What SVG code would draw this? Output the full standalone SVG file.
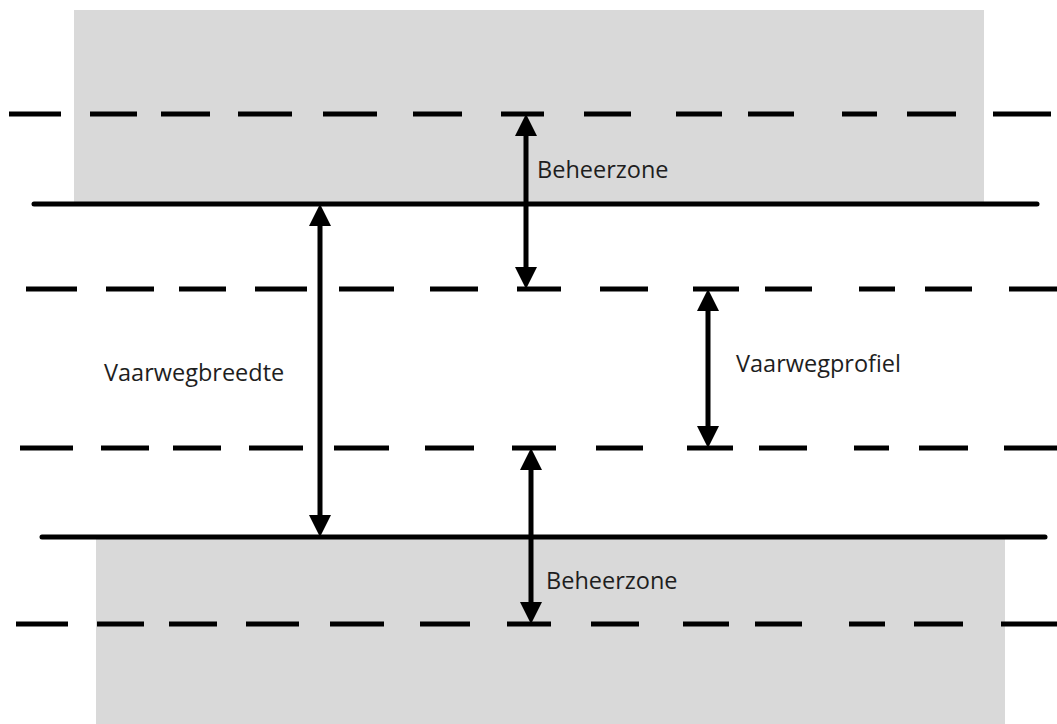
<svg xmlns="http://www.w3.org/2000/svg" width="1057" height="724" viewBox="0 0 1057 724">
  <style>
    .zone { fill: #d9d9d9; }
    .solid { stroke: #000; stroke-width: 5; stroke-linecap: round; fill: none; }
    .dash { stroke: #000; stroke-width: 5; stroke-linecap: butt; fill: none; }
    .arrow { stroke: #000; stroke-width: 5; fill: none; marker-start: url(#head); marker-end: url(#head); }
    .label { font-family: "Open Sans", "Noto Sans", sans-serif; font-size: 23.5px; fill: #1e1e1e; }
  </style>
  <defs>
    <marker id="head" markerUnits="userSpaceOnUse" markerWidth="22" markerHeight="22" refX="12" refY="11" orient="auto-start-reverse">
      <path d="M0,0 L22,11 L0,22 z" fill="#000"/>
    </marker>
  </defs>
  <rect width="1057" height="724" fill="#fff"/>

  <g id="beheerzone-top-area">
    <rect class="zone" x="74" y="10" width="910" height="194"/>
  </g>
  <g id="beheerzone-bottom-area">
    <rect class="zone" x="96" y="537" width="909" height="187"/>
  </g>

  <g id="lines">
    <path class="dash" d="M9,114H61M90,114H137M161,114H210M238,114H292M323,114H377M413,114H462M501,114H544M584,114H631M676,114H722M748,114H794M842,114H877M907,114H956M993,114H1051"/>
    <path class="solid" d="M34,204H1037"/>
    <path class="dash" d="M26,289H77M106,289H154M179,289H226M255,289H307M339,289H394M430,289H478M517,289H561M600,289H648M693,289H739M765,289H812M859,289H895M925,289H972M1009,289H1057"/>
    <path class="dash" d="M20,448H73M101,448H149M173,448H221M249,448H303M334,448H389M425,448H474M512,448H556M596,448H643M687,448H733M759,448H807M854,448H889M919,448H968M1004,448H1057"/>
    <path class="solid" d="M42,537H1045"/>
    <path class="dash" d="M16,624H68M97,624H144M169,624H217M246,624H299M330,624H384M420,624H470M507,624H551M591,624H639M683,624H729M755,624H802M849,624H885M914,624H963M1001,624H1057"/>
  </g>

  <g id="connectors">
    <line class="arrow" x1="526" y1="124" x2="526" y2="279"/>
    <line class="arrow" x1="708" y1="299" x2="708" y2="438"/>
    <line class="arrow" x1="531" y1="458" x2="531" y2="614"/>
    <line class="arrow" x1="320" y1="214" x2="320" y2="527"/>
  </g>

  <g id="label-beheerzone-top">
    <text class="label" x="537" y="178">Beheerzone</text>
  </g>
  <g id="label-vaarwegprofiel">
    <text class="label" x="736" y="372">Vaarwegprofiel</text>
  </g>
  <g id="label-vaarwegbreedte">
    <text class="label" x="104" y="381">Vaarwegbreedte</text>
  </g>
  <g id="label-beheerzone-bottom">
    <text class="label" x="546" y="589">Beheerzone</text>
  </g>
</svg>
